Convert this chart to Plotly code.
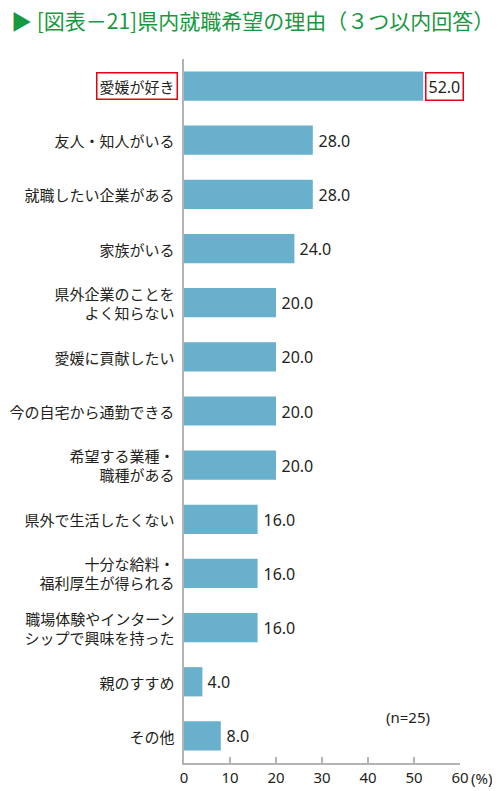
import plotly.graph_objects as go

title = "▶ [図表－21]県内就職希望の理由（３つ以内回答）"
reasons = ["愛媛が好き", "友人・知人がいる", "就職したい企業がある", "家族がいる",
           "県外企業のことを<br>よく知らない", "愛媛に貢献したい", "今の自宅から通勤できる",
           "希望する業種・<br>職種がある", "県外で生活したくない", "十分な給料・<br>福利厚生が得られる",
           "職場体験やインターン<br>シップで興味を持った", "親のすすめ", "その他"]
pct = [52.0, 28.0, 28.0, 24.0, 20.0, 20.0, 20.0, 20.0, 16.0, 16.0, 16.0, 4.0, 8.0]
highlight = ["愛媛が好き"]
x_ticks = [0, 10, 20, 30, 40, 50, 60]
note = "(n=25)"

font_jp = "Noto Sans CJK JP"
font_num = "Noto Sans, Noto Sans CJK JP"
green = "#17993f"
bar_col = "#68b0cc"
txt_col = "#231f20"
red = "#e60012"

pos = list(range(len(reasons)))

fig = go.Figure()
fig.add_trace(go.Bar(x=pct, y=pos, orientation="h", marker_color=bar_col,
                     marker_line_width=0, width=0.54, hoverinfo="skip"))

# category labels and values (annotations so the red boxes can be drawn)
for i, (r, v) in enumerate(zip(reasons, pct)):
    hl = r in highlight
    box = red if hl else "rgba(0,0,0,0)"
    fig.add_annotation(x=0, y=i, xref="x", yref="y", text=r, showarrow=False,
                       xanchor="right", align="right", xshift=-6,
                       font=dict(family=font_jp, size=15, color=txt_col),
                       bordercolor=box, borderwidth=1.5, borderpad=2)
    fig.add_annotation(x=v, y=i, xref="x", yref="y", text=f"{v:.1f}", showarrow=False,
                       xanchor="left", xshift=2,
                       font=dict(family=font_num, size=16, color=txt_col),
                       bordercolor=box, borderwidth=1.5, borderpad=2)

fig.add_annotation(x=0.81, y=0.066, xref="paper", yref="paper", text=note, showarrow=False,
                   xanchor="center", yanchor="middle",
                   font=dict(family=font_num, size=15, color=txt_col))
fig.add_annotation(x=1, y=0, xref="paper", yref="paper", text="(%)", showarrow=False,
                   xanchor="left", yanchor="top", xshift=9, yshift=-3,
                   font=dict(family=font_num, size=15, color=txt_col))
fig.add_annotation(x=0, y=1, xref="paper", yref="paper", text=title, showarrow=False,
                   xanchor="left", yanchor="middle", xshift=-175, yshift=39,
                   font=dict(family=font_jp, size=21, color=green))

# page body has an 8px margin, so the figure starts 8px in from the top-left corner
fig.update_layout(
    width=492, height=783,
    margin=dict(l=176, r=40, t=51, b=28),
    plot_bgcolor="white", paper_bgcolor="white",
    showlegend=False,
    xaxis=dict(range=[0, 60], tickvals=x_ticks, showgrid=False, zeroline=False,
               automargin=False,
               showline=True, linecolor="#b4b4b4", linewidth=1.5,
               ticks="inside", ticklen=6, tickcolor="#b4b4b4", tickwidth=1.5,
               tickfont=dict(family=font_num, size=15, color=txt_col)),
    yaxis=dict(range=[len(reasons) - 0.5, -0.5], showticklabels=False, showgrid=False,
               automargin=False,
               zeroline=False, showline=True, linecolor="#b4b4b4", linewidth=1.5),
)

fig.write_html("out.html")
